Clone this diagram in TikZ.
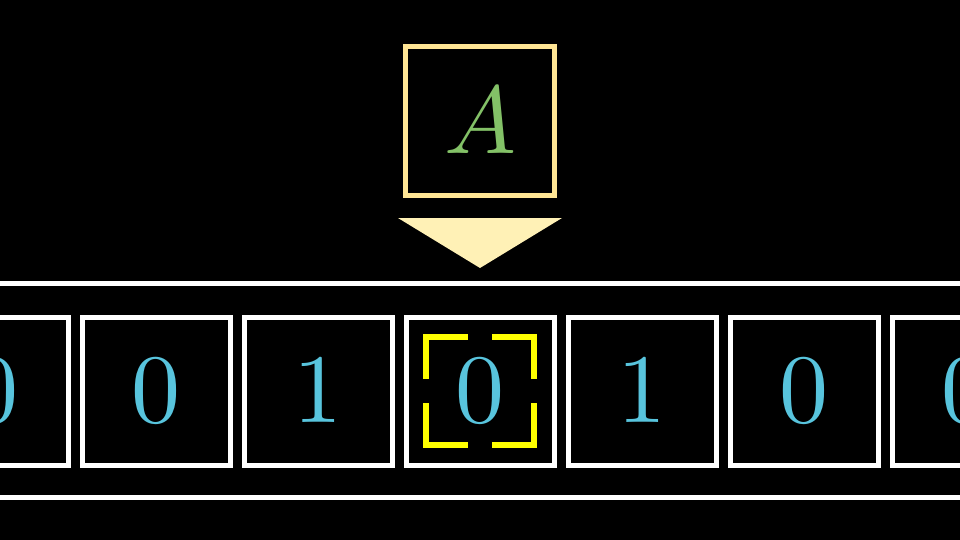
\documentclass[tikz,border=0pt]{standalone}
\usetikzlibrary{calc}
\font\tapefont=cmr10 at 98pt
\font\statefont=cmmi10 at 96pt
\definecolor{tapeblue}{HTML}{58C4DD}
\definecolor{headgreen}{HTML}{83C167}
\definecolor{headframe}{HTML}{FFE594}
\definecolor{headtip}{HTML}{FFF1B6}
\definecolor{marker}{HTML}{FFFF00}
\tikzset{
  tapeedge/.style={draw=white, line width=5pt},
  cell/.style={draw=white, line width=5pt, minimum size=148pt, inner sep=0pt,
    text=tapeblue, font=\tapefont},
  headbox/.style={draw=headframe, line width=5pt, minimum size=149pt, inner sep=0pt,
    text=headgreen, font=\statefont},
  bracket/.style={draw=marker, line width=5.5pt}
}
\begin{document}
\begin{tikzpicture}[x=1pt,y=-1pt]
\fill[black] (0,0) rectangle (960,540);
\useasboundingbox (0,0) rectangle (960,540);
% tape
\draw[tapeedge] (0,283.5) -- (960,283.5);
\draw[tapeedge] (0,497.5) -- (960,497.5);
\foreach \d [count=\i] in {0,0,1,0,1,0,0}
  \node[cell] (c\i) at ({480+162*(\i-4)},391) {\d};
% head
\node[headbox] (head) at (480,120.75) {A};
\fill[headtip] (398,218) -- (562,218) -- (480,268) -- cycle;
% marks round the scanned cell
\foreach \sx in {-1,1}
  \foreach \sy in {-1,1}
    \draw[bracket] ($(c4.center)+(54*\sx,12*\sy)$) -- ++(0,42*\sy) -- ++(-42*\sx,0);
\end{tikzpicture}
\end{document}
